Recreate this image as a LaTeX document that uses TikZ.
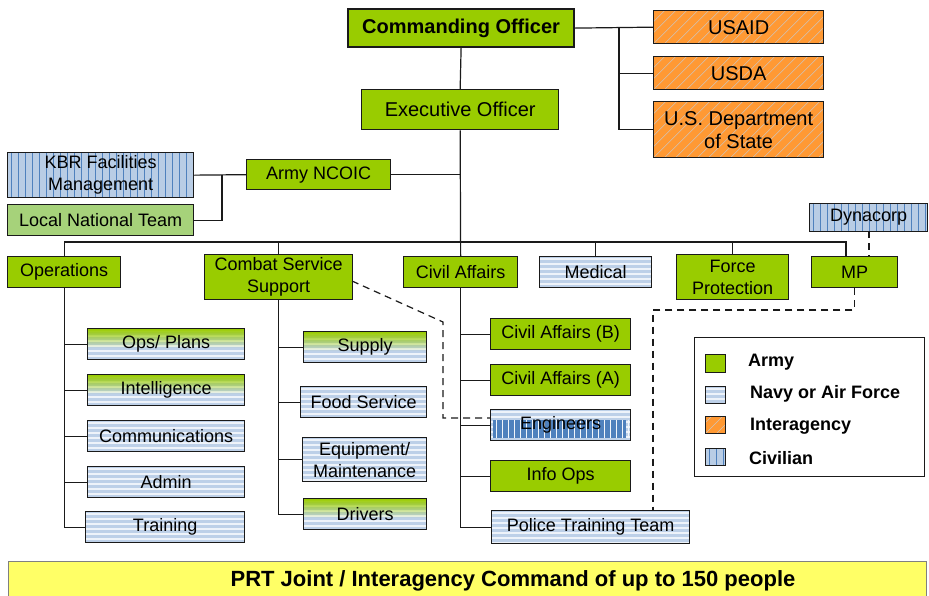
\documentclass[tikz,border=0pt]{standalone}
\usepackage{fontspec}
\setmainfont{Liberation Sans}
\usetikzlibrary{fadings,calc}
\definecolor{army}{HTML}{99CC00}
\definecolor{lgreen}{HTML}{A6D27A}
\definecolor{navyA}{HTML}{BDD0E8}
\definecolor{navyB}{HTML}{EEF3FA}
\definecolor{civA}{HTML}{B9CDE5}
\definecolor{civB}{HTML}{4F81BD}
\definecolor{inter}{HTML}{FF9933}
\definecolor{interl}{HTML}{CFC4BA}
\definecolor{yel}{HTML}{FFFF66}
\definecolor{ln}{HTML}{1A1A1A}
\tikzfading[name=gtop, top color=transparent!0, bottom color=transparent!100]
\newcommand\B[6]{\node[box,#1,minimum width=#4pt,minimum height=#5pt] (#2) at (#3) {#6};}
\begin{document}
\begin{tikzpicture}[x=1pt,y=-1pt,
  box/.style={draw=ln, line width=1.3pt, anchor=north west, inner sep=0pt, align=center, font=\fontsize{18}{22}\selectfont},
  bigf/.style={font=\fontsize{20}{23}\selectfont},
  armyb/.style={fill=army},
  lgb/.style={fill=lgreen},
  navyb/.style={fill=navyA, path picture={
     \foreach \k in {0,...,12}{\fill[navyB] ([yshift=-\k*5pt-1pt]path picture bounding box.north west) rectangle ++(300pt,-2.4pt);}}},
  gradb/.style={fill=navyA, path picture={
     \foreach \k in {0,...,12}{\fill[navyB] ([yshift=-\k*5pt-1pt]path picture bounding box.north west) rectangle ++(300pt,-2.4pt);}
     \fill[army, path fading=gtop] (path picture bounding box.north west) rectangle ([yshift=-19pt]path picture bounding box.north east);}},
  civb/.style={fill=civA, path picture={
     \foreach \k in {0,...,40}{\fill[civB] ([xshift=\k*7pt+3pt]path picture bounding box.north west) rectangle ++(1.6pt,-70pt);}}},
  engb/.style={fill=navyA, path picture={
     \foreach \k in {0,...,12}{\fill[navyB] ([yshift=-\k*5pt-1pt]path picture bounding box.north west) rectangle ++(300pt,-2.4pt);}
     \fill[civB] ([yshift=-10pt,xshift=2pt]path picture bounding box.north west) rectangle ([xshift=-5pt,yshift=3pt]path picture bounding box.south east);
     \foreach \k in {0,...,25}{\fill[white!80!civA] ([xshift=\k*6pt+5pt,yshift=-10pt]path picture bounding box.north west) rectangle ++(0.9pt,-18pt);}}},
  interb/.style={fill=inter, path picture={
     \foreach \k in {-10,...,25}{\draw[interl, line width=0.6pt] ([xshift=\k*11pt]path picture bounding box.south west) -- ++(70pt,70pt);}}},
  conn/.style={draw=ln, line width=1.2pt},
  dsh/.style={draw=ln, line width=1.2pt, dash pattern=on 7pt off 5pt}
]
\useasboundingbox (0,0) rectangle (929,595);

% top level
\B{armyb,line width=2.2pt,font=\bfseries\fontsize{20}{23}\selectfont}{co}{347,8}{226}{38}{Commanding Officer}
\B{interb,bigf}{usaid}{653,10}{170}{33}{USAID}
\B{interb,bigf}{usda}{653,56}{170}{33}{USDA}
\B{interb,bigf}{dos}{653,101}{170}{56}{U.S. Department\\of State}
\B{armyb,bigf}{xo}{361,89}{197}{40}{Executive Officer}
\B{armyb}{ncoic}{246,159}{144}{30}{Army NCOIC}
\B{civb}{kbr}{7,152}{186}{45}{KBR Facilities\\Management}
\B{lgb}{lnt}{7,204}{186}{31}{Local National Team}

% second level
\B{armyb}{ops}{7,256}{113}{31}{Operations}
\B{armyb}{css}{204,254}{148}{45}{Combat Service\\Support}
\B{armyb}{ca}{403,256}{114}{31}{Civil Affairs}
\B{navyb}{med}{539,256}{112}{31}{Medical}
\B{armyb}{fp}{676,254}{112}{45}{Force\\Protection}
\B{armyb}{mp}{811,256}{86}{31}{MP}
\B{civb}{dyn}{809,203}{118}{28}{Dynacorp}

% operations children
\B{gradb}{opl}{87,328}{157}{31}{Ops/ Plans}
\B{gradb}{intel}{87,374}{157}{31}{Intelligence}
\B{navyb}{comm}{87,420}{157}{31}{Communications}
\B{navyb}{admin}{87,466}{157}{31}{Admin}
\B{navyb}{train}{85,511}{159}{31}{Training}

% css children
\B{gradb}{supply}{303,331}{123}{31}{Supply}
\B{navyb}{food}{300,386}{126}{31}{Food Service}
\B{navyb}{equip}{302,437}{124}{44}{Equipment/\\Maintenance}
\B{gradb}{drivers}{303,498}{123}{31}{Drivers}

% civil affairs children
\B{armyb}{cab}{490,318}{140}{31}{Civil Affairs (B)}
\B{armyb}{caa}{490,364}{140}{31}{Civil Affairs (A)}
\B{engb}{eng}{490,409}{140}{31}{Engineers}
\B{armyb}{info}{490,460}{140}{31}{Info Ops}
\B{navyb}{ptt}{491,510}{198}{33}{Police Training Team}

% connectors top
\coordinate (jr) at (619,27);
\draw[conn] (co.east) -- (usaid.west);
\draw[conn] (jr) |- (usda.west);
\draw[conn] (jr) |- (dos.west);
\draw[conn] (co.south) -- (xo.north);
\draw[conn] (xo.south) -- (ca.north);
\draw[conn] (ncoic.east) -- (ncoic.east -| xo.south);
\draw[conn] (ncoic.west) -- (kbr.east);
\coordinate (jk) at (222,174.5);
\draw[conn] (jk) |- (lnt.east);

% bus
\coordinate (busR) at (846,242);
\draw[conn] (ops.north) |- (busR) -- (busR |- mp.north);
\draw[conn] (css.north) -- (css.north |- busR);
\draw[conn] (med.north) -- (med.north |- busR);
\draw[conn] (fp.north) -- (fp.north |- busR);

% operations branch
\draw[conn] (ops.south) |- (train.west);
\foreach \n in {opl,intel,comm,admin}{\draw[conn] (\n.west) -- (\n.west -| ops.south);}
% css branch
\draw[conn] (css.south) |- (drivers.west);
\foreach \n in {supply,food,equip}{\draw[conn] (\n.west) -- (\n.west -| css.south);}
% civil affairs branch
\draw[conn] (ca.south) |- (ptt.west);
\foreach \n in {cab,caa,eng,info}{\draw[conn] (\n.west) -- (\n.west -| ca.south);}

% dashed
\coordinate (dd) at (869,231);
\draw[dsh] (dd) -- (dd |- mp.north);
\coordinate (pk) at (653,310);
\draw[dsh] (mp.south) |- (pk) -- (pk |- ptt.north);
\coordinate (cs0) at (352,281);
\coordinate (cs1) at (443,322);
\coordinate (cs2) at (443,418);
\draw[dsh] (cs0) -- (cs1) -- (cs2) -- (cs2 -| eng.west);

% legend
\node[draw=ln, line width=0.8pt, anchor=north west, minimum width=230pt, minimum height=139pt, inner sep=0pt] (leg) at (694,337) {};
\B{armyb,line width=1pt}{lg1}{705,354}{20}{18}{}
\B{navyb,line width=1pt}{lg2}{705,386}{20}{17}{}
\B{interb,line width=1pt}{lg3}{705,416}{20}{17}{}
\B{civb,line width=1pt}{lg4}{705,448}{20}{17}{}
\node[anchor=west, inner sep=0pt, font=\bfseries\fontsize{18}{22}\selectfont] (lt1) at (748,362) {Army};
\node[anchor=west, inner sep=0pt, font=\bfseries\fontsize{18}{22}\selectfont] (lt2) at (750,394) {Navy or Air Force};
\node[anchor=west, inner sep=0pt, font=\bfseries\fontsize{18}{22}\selectfont] (lt3) at (750,426) {Interagency};
\node[anchor=west, inner sep=0pt, font=\bfseries\fontsize{18}{22}\selectfont] (lt4) at (749,458) {Civilian};

% bottom bar
\node[fill=yel, draw=gray, line width=0.8pt, anchor=north west, minimum width=918pt, minimum height=50pt, inner sep=0pt] (bar) at (8,561) {};
\node[font=\bfseries\fontsize{22}{26}\selectfont, inner sep=0pt] (title) at (513,581) {PRT Joint / Interagency Command of up to 150 people};
\end{tikzpicture}
\end{document}
